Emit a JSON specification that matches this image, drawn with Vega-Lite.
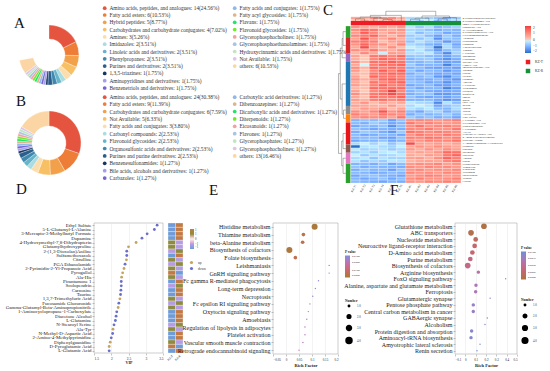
{
"$schema":"https://vega.github.io/schema/vega-lite/v6.json",
"padding":{"left":4,"top":3,"right":0,"bottom":0},
"background":"white",
"config":{"font":"Liberation Serif","view":{"stroke":null},"axis":{"labelFont":"Liberation Serif","titleFont":"Liberation Serif","labelColor":"#222","titleColor":"#222"},"legend":{"labelFont":"Liberation Serif","titleFont":"Liberation Serif","labelColor":"#333","titleColor":"#222"},"title":{"font":"Liberation Serif","fontWeight":"normal","color":"#111"}},
"datasets":{
"cnames":[{"r":0,"m":"4-Hydroxyphenylacetaldehyde"},{"r":1,"m":"2-Hydroxycinnamic Acid"},{"r":2,"m":"Indole-3-Carboxaldehyde"},{"r":3,"m":"Pantothenic Acid"},{"r":4,"m":"N-Acetylglutamine"},{"r":5,"m":"5-Hydroxyindoleacetic Acid"},{"r":6,"m":"Glycerophosphocholine"},{"r":7,"m":"Adenosine"},{"r":8,"m":"Hypoxanthine"},{"r":9,"m":"Guanosine"},{"r":10,"m":"3-Methylhistidine"},{"r":11,"m":"Xanthine"},{"r":12,"m":"L-Histidine"},{"r":13,"m":"Sphingosine"},{"r":14,"m":"Glutathione"},{"r":15,"m":"Succinic Acid"},{"r":16,"m":"Linoleic Acid"},{"r":17,"m":"Imidazolepropionic Acid"},{"r":18,"m":"Thiamine"},{"r":19,"m":"Uridine"},{"r":20,"m":"Creatine"},{"r":21,"m":"Carnosine"},{"r":22,"m":"Anserine"},{"r":23,"m":"L-Citrulline"},{"r":24,"m":"Nicotinamide"},{"r":25,"m":"Pyridoxal"},{"r":26,"m":"Riboflavin"},{"r":27,"m":"Inosine"},{"r":28,"m":"Biotin"},{"r":29,"m":"Folic Acid"},{"r":30,"m":"Betaine"},{"r":31,"m":"Choline"},{"r":32,"m":"Taurine"},{"r":33,"m":"Ala-His"},{"r":34,"m":"Ethyl Sulfate"},{"r":35,"m":"L-Glutamic Acid"},{"r":36,"m":"D-Pyroglutamic Acid"},{"r":37,"m":"Diphenylguanidine"},{"r":38,"m":"L-Glutamine"},{"r":39,"m":"Ala-Tyr"},{"r":40,"m":"N-Methyl-D-Aspartic Acid"},{"r":41,"m":"2-Amino-4-Methylpyrimidine"},{"r":42,"m":"Diacetone Alcohol"},{"r":43,"m":"1-Aminocyclopropane-1-Carboxylate"},{"r":44,"m":"Pyrogallol"},{"r":45,"m":"Ornithine"},{"r":46,"m":"Spermidine"},{"r":47,"m":"Putrescine"},{"r":48,"m":"Arginine"},{"r":49,"m":"Proline"},{"r":50,"m":"Hydroxyproline"},{"r":51,"m":"Trigonelline"},{"r":52,"m":"Kynurenine"},{"r":53,"m":"Tryptophan"},{"r":54,"m":"Phenylalanine"},{"r":55,"m":"Tyrosine"},{"r":56,"m":"Leucine"}]
},
"spacing":-12,
"resolve":{"scale":{"color":"independent","size":"independent","fill":"independent"}},
"vconcat":[
{"bounds":"flush","spacing":245,"resolve":{"scale":{"color":"independent","fill":"independent"}},"hconcat":[
 {"width":88,"height":176,
  "resolve":{"scale":{"color":"independent"}},
  "layer":[
  {"data":{"values":[
    {"o":1,"cls":"Amino acids, peptides, and analogues: 14(24.56%)","n":14},
    {"o":2,"cls":"Fatty acid esters: 6(10.53%)","n":6},
    {"o":3,"cls":"Hybrid peptides: 5(8.77%)","n":5},
    {"o":4,"cls":"Carbohydrates and carbohydrate conjugates: 4(7.02%)","n":4},
    {"o":5,"cls":"Amines: 3(5.26%)","n":3},
    {"o":6,"cls":"Imidazoles: 2(3.51%)","n":2},
    {"o":7,"cls":"Linoleic acids and derivatives: 2(3.51%)","n":2},
    {"o":8,"cls":"Phenylpropanes: 2(3.51%)","n":2},
    {"o":9,"cls":"Purines and derivatives: 2(3.51%)","n":2},
    {"o":10,"cls":"1,3,5-triazines: 1(1.75%)","n":1},
    {"o":11,"cls":"Aminopyridines and derivatives: 1(1.75%)","n":1},
    {"o":12,"cls":"Benzenetriols and derivatives: 1(1.75%)","n":1},
    {"o":13,"cls":"Fatty acids and conjugates: 1(1.75%)","n":1},
    {"o":14,"cls":"Fatty acyl glycosides: 1(1.75%)","n":1},
    {"o":15,"cls":"Flavans: 1(1.75%)","n":1},
    {"o":16,"cls":"Flavonoid glycosides: 1(1.75%)","n":1},
    {"o":17,"cls":"Glycerophosphocholines: 1(1.75%)","n":1},
    {"o":18,"cls":"Glycerophosphoethanolamines: 1(1.75%)","n":1},
    {"o":19,"cls":"Hydroxycinnamic acids and derivatives: 1(1.75%)","n":1},
    {"o":20,"cls":"Not Available: 1(1.75%)","n":1},
    {"o":21,"cls":"others: 6(10.53%)","n":6}]},
   "mark":{"type":"arc","innerRadius":16,"outerRadius":30,"stroke":"white","strokeWidth":0.3},
   "encoding":{
    "y":{"datum":"A","type":"nominal","scale":{"domain":["A","B"]},"axis":null},
    "theta":{"field":"n","type":"quantitative","stack":true},
    "order":{"field":"o","type":"quantitative"},
    "color":{"field":"cls","type":"nominal",
     "scale":{"domain":["Amino acids, peptides, and analogues: 14(24.56%)","Fatty acid esters: 6(10.53%)","Hybrid peptides: 5(8.77%)","Carbohydrates and carbohydrate conjugates: 4(7.02%)","Amines: 3(5.26%)","Imidazoles: 2(3.51%)","Linoleic acids and derivatives: 2(3.51%)","Phenylpropanes: 2(3.51%)","Purines and derivatives: 2(3.51%)","1,3,5-triazines: 1(1.75%)","Aminopyridines and derivatives: 1(1.75%)","Benzenetriols and derivatives: 1(1.75%)","Fatty acids and conjugates: 1(1.75%)","Fatty acyl glycosides: 1(1.75%)","Flavans: 1(1.75%)","Flavonoid glycosides: 1(1.75%)","Glycerophosphocholines: 1(1.75%)","Glycerophosphoethanolamines: 1(1.75%)","Hydroxycinnamic acids and derivatives: 1(1.75%)","Not Available: 1(1.75%)","others: 6(10.53%)"," ","  ","   "],
      "range":["#E4543F","#EE7E37","#F3A04B","#F8C064","#FCDDAE","#A9DDE2","#66B5CB","#3F88AE","#2A5E8C","#16375C","#A59DEB","#7462D6","#8DB9EA","#DDB58D","#1FE56A","#72E92C","#F5A0A0","#A8C4E5","#C2E5C0","#DBC6EA","#FBD6A4","rgba(0,0,0,0)","rgba(0,0,0,0)","rgba(0,0,0,0)"]},
     "legend":{"orient":"none","legendX":97,"legendY":-6,"title":null,"columns":2,"symbolType":"circle","symbolSize":14,"symbolStrokeWidth":0,"labelFontSize":5.4,"labelLimit":0,"rowPadding":0.3,"columnPadding":5,"labelOffset":2,"padding":0}}
   }},
  {"data":{"values":[
    {"o":1,"cls":"Amino acids, peptides, and analogues: 24(30.38%)","n":24},
    {"o":2,"cls":"Fatty acid esters: 9(11.39%)","n":9},
    {"o":3,"cls":"Carbohydrates and carbohydrate conjugates: 6(7.59%)","n":6},
    {"o":4,"cls":"Not Available: 5(6.33%)","n":5},
    {"o":5,"cls":"Fatty acids and conjugates: 3(3.80%)","n":3},
    {"o":6,"cls":"Carbonyl compounds: 2(2.53%)","n":2},
    {"o":7,"cls":"Flavonoid glycosides: 2(2.53%)","n":2},
    {"o":8,"cls":"Organosulfonic acids and derivatives: 2(2.53%)","n":2},
    {"o":9,"cls":"Purines and purine derivatives: 2(2.53%)","n":2},
    {"o":10,"cls":"Benzenesulfonamides: 1(1.27%)","n":1},
    {"o":11,"cls":"Bile acids, alcohols and derivatives: 1(1.27%)","n":1},
    {"o":12,"cls":"Carbazoles: 1(1.27%)","n":1},
    {"o":13,"cls":"Carboxylic acid derivatives: 1(1.27%)","n":1},
    {"o":14,"cls":"Dibenzoazepines: 1(1.27%)","n":1},
    {"o":15,"cls":"Dicarboxylic acids and derivatives: 1(1.27%)","n":1},
    {"o":16,"cls":"Diterpenoids: 1(1.27%)","n":1},
    {"o":17,"cls":"Eicosanoids: 1(1.27%)","n":1},
    {"o":18,"cls":"Flavones: 1(1.27%)","n":1},
    {"o":19,"cls":"Glycerophosphates: 1(1.27%)","n":1},
    {"o":20,"cls":"Glycerophosphocholines: 1(1.27%)","n":1},
    {"o":21,"cls":"others: 13(16.46%)","n":13}]},
   "mark":{"type":"arc","innerRadius":17,"outerRadius":32,"stroke":"white","strokeWidth":0.3},
   "encoding":{
    "y":{"datum":"B","type":"nominal","scale":{"domain":["A","B"]},"axis":null},
    "theta":{"field":"n","type":"quantitative","stack":true},
    "order":{"field":"o","type":"quantitative"},
    "color":{"field":"cls","type":"nominal",
     "scale":{"domain":["Amino acids, peptides, and analogues: 24(30.38%)","Fatty acid esters: 9(11.39%)","Carbohydrates and carbohydrate conjugates: 6(7.59%)","Not Available: 5(6.33%)","Fatty acids and conjugates: 3(3.80%)","Carbonyl compounds: 2(2.53%)","Flavonoid glycosides: 2(2.53%)","Organosulfonic acids and derivatives: 2(2.53%)","Purines and purine derivatives: 2(2.53%)","Benzenesulfonamides: 1(1.27%)","Bile acids, alcohols and derivatives: 1(1.27%)","Carbazoles: 1(1.27%)","Carboxylic acid derivatives: 1(1.27%)","Dibenzoazepines: 1(1.27%)","Dicarboxylic acids and derivatives: 1(1.27%)","Diterpenoids: 1(1.27%)","Eicosanoids: 1(1.27%)","Flavones: 1(1.27%)","Glycerophosphates: 1(1.27%)","Glycerophosphocholines: 1(1.27%)","others: 13(16.46%)"," ","  ","   "],
      "range":["#E4543F","#EE7E37","#F3A04B","#F8C064","#FCDDAE","#A9DDE2","#66B5CB","#3F88AE","#2A5E8C","#16375C","#A59DEB","#7462D6","#8DB9EA","#DDB58D","#1FE56A","#72E92C","#F5A0A0","#A8C4E5","#C2E5C0","#DBC6EA","#FBD6A4","rgba(0,0,0,0)","rgba(0,0,0,0)","rgba(0,0,0,0)"]},
     "legend":{"orient":"none","legendX":97,"legendY":83,"title":null,"columns":2,"symbolType":"circle","symbolSize":14,"symbolStrokeWidth":0,"labelFontSize":5.4,"labelLimit":0,"rowPadding":0.4,"columnPadding":5,"labelOffset":2,"padding":0}}
   }},
  {"data":{"values":[{"t":"A"}]},
   "mark":{"type":"text","align":"left","baseline":"alphabetic","fontSize":15,"dx":-35,"dy":-27,"color":"#111"},
   "encoding":{"y":{"datum":"A","type":"nominal","scale":{"domain":["A","B"]},"axis":null},"text":{"field":"t"}}},
  {"data":{"values":[{"t":"B"}]},
   "mark":{"type":"text","align":"left","baseline":"alphabetic","fontSize":15,"dx":-33,"dy":-37,"color":"#111"},
   "encoding":{"y":{"datum":"B","type":"nominal","scale":{"domain":["A","B"]},"axis":null},"text":{"field":"t"}}}
  ]},
 {"title":{"text":"C","anchor":"start","frame":"group","fontSize":15,"dx":-15,"dy":19,"offset":0,"baseline":"alphabetic"},
  "width":123,"height":172,
  "resolve":{"scale":{"x":"independent","y":"independent","color":"independent"},"axis":{"x":"independent","y":"independent"}},
  "layer":[
   {"data":{"values":[
{"r":0,"s":"KZ-T1","v":0.6},{"r":0,"s":"KZ-T2","v":0.3},{"r":0,"s":"KZ-T3","v":0.8},{"r":0,"s":"KZ-T4","v":0.5},{"r":0,"s":"KZ-T5","v":1.0},{"r":0,"s":"KZ-T6","v":0.4},{"r":0,"s":"KZ-R1","v":-0.5},{"r":0,"s":"KZ-R2","v":-0.3},{"r":0,"s":"KZ-R3","v":-0.6},{"r":0,"s":"KZ-R4","v":-0.8},{"r":0,"s":"KZ-R5","v":-1.0},{"r":0,"s":"KZ-R6","v":-0.7},
{"r":1,"s":"KZ-T1","v":0.2},{"r":1,"s":"KZ-T2","v":0.9},{"r":1,"s":"KZ-T3","v":0.5},{"r":1,"s":"KZ-T4","v":0.3},{"r":1,"s":"KZ-T5","v":0.7},{"r":1,"s":"KZ-T6","v":0.6},{"r":1,"s":"KZ-R1","v":-0.4},{"r":1,"s":"KZ-R2","v":-0.6},{"r":1,"s":"KZ-R3","v":-0.2},{"r":1,"s":"KZ-R4","v":-0.9},{"r":1,"s":"KZ-R5","v":-0.7},{"r":1,"s":"KZ-R6","v":-0.5},
{"r":2,"s":"KZ-T1","v":0.5},{"r":2,"s":"KZ-T2","v":0.4},{"r":2,"s":"KZ-T3","v":1.0},{"r":2,"s":"KZ-T4","v":0.2},{"r":2,"s":"KZ-T5","v":0.5},{"r":2,"s":"KZ-T6","v":0.9},{"r":2,"s":"KZ-R1","v":-0.6},{"r":2,"s":"KZ-R2","v":-0.2},{"r":2,"s":"KZ-R3","v":-0.5},{"r":2,"s":"KZ-R4","v":-0.6},{"r":2,"s":"KZ-R5","v":-1.2},{"r":2,"s":"KZ-R6","v":-0.8},
{"r":3,"s":"KZ-T1","v":0.8},{"r":3,"s":"KZ-T2","v":0.5},{"r":3,"s":"KZ-T3","v":0.3},{"r":3,"s":"KZ-T4","v":0.6},{"r":3,"s":"KZ-T5","v":0.4},{"r":3,"s":"KZ-T6","v":0.7},{"r":3,"s":"KZ-R1","v":-0.3},{"r":3,"s":"KZ-R2","v":-0.7},{"r":3,"s":"KZ-R3","v":-0.4},{"r":3,"s":"KZ-R4","v":-1.0},{"r":3,"s":"KZ-R5","v":-0.8},{"r":3,"s":"KZ-R6","v":-0.6},
{"r":4,"s":"KZ-T1","v":0.9},{"r":4,"s":"KZ-T2","v":1.4},{"r":4,"s":"KZ-T3","v":1.2},{"r":4,"s":"KZ-T4","v":0.6},{"r":4,"s":"KZ-T5","v":0.5},{"r":4,"s":"KZ-T6","v":0.8},{"r":4,"s":"KZ-R1","v":-0.5},{"r":4,"s":"KZ-R2","v":-0.6},{"r":4,"s":"KZ-R3","v":-0.8},{"r":4,"s":"KZ-R4","v":-1.1},{"r":4,"s":"KZ-R5","v":-0.9},{"r":4,"s":"KZ-R6","v":-1.0},
{"r":5,"s":"KZ-T1","v":0.7},{"r":5,"s":"KZ-T2","v":1.6},{"r":5,"s":"KZ-T3","v":1.0},{"r":5,"s":"KZ-T4","v":0.4},{"r":5,"s":"KZ-T5","v":0.8},{"r":5,"s":"KZ-T6","v":0.6},{"r":5,"s":"KZ-R1","v":-0.4},{"r":5,"s":"KZ-R2","v":-0.9},{"r":5,"s":"KZ-R3","v":-0.6},{"r":5,"s":"KZ-R4","v":-0.8},{"r":5,"s":"KZ-R5","v":-1.2},{"r":5,"s":"KZ-R6","v":-1.0},
{"r":6,"s":"KZ-T1","v":1.0},{"r":6,"s":"KZ-T2","v":1.2},{"r":6,"s":"KZ-T3","v":1.5},{"r":6,"s":"KZ-T4","v":0.7},{"r":6,"s":"KZ-T5","v":0.3},{"r":6,"s":"KZ-T6","v":0.9},{"r":6,"s":"KZ-R1","v":-0.7},{"r":6,"s":"KZ-R2","v":-0.5},{"r":6,"s":"KZ-R3","v":-0.9},{"r":6,"s":"KZ-R4","v":-1.3},{"r":6,"s":"KZ-R5","v":-0.7},{"r":6,"s":"KZ-R6","v":-1.1},
{"r":7,"s":"KZ-T1","v":0.6},{"r":7,"s":"KZ-T2","v":1.7},{"r":7,"s":"KZ-T3","v":0.8},{"r":7,"s":"KZ-T4","v":0.5},{"r":7,"s":"KZ-T5","v":1.0},{"r":7,"s":"KZ-T6","v":0.4},{"r":7,"s":"KZ-R1","v":-0.6},{"r":7,"s":"KZ-R2","v":-0.8},{"r":7,"s":"KZ-R3","v":-0.5},{"r":7,"s":"KZ-R4","v":-1.5},{"r":7,"s":"KZ-R5","v":-0.8},{"r":7,"s":"KZ-R6","v":-0.9},
{"r":8,"s":"KZ-T1","v":1.1},{"r":8,"s":"KZ-T2","v":1.3},{"r":8,"s":"KZ-T3","v":1.1},{"r":8,"s":"KZ-T4","v":0.2},{"r":8,"s":"KZ-T5","v":0.6},{"r":8,"s":"KZ-T6","v":0.7},{"r":8,"s":"KZ-R1","v":-0.8},{"r":8,"s":"KZ-R2","v":-0.4},{"r":8,"s":"KZ-R3","v":-0.7},{"r":8,"s":"KZ-R4","v":-0.9},{"r":8,"s":"KZ-R5","v":-1.4},{"r":8,"s":"KZ-R6","v":-1.0},
{"r":9,"s":"KZ-T1","v":0.8},{"r":9,"s":"KZ-T2","v":1.5},{"r":9,"s":"KZ-T3","v":0.9},{"r":9,"s":"KZ-T4","v":0.8},{"r":9,"s":"KZ-T5","v":0.4},{"r":9,"s":"KZ-T6","v":1.0},{"r":9,"s":"KZ-R1","v":-0.5},{"r":9,"s":"KZ-R2","v":-0.7},{"r":9,"s":"KZ-R3","v":-1.0},{"r":9,"s":"KZ-R4","v":-1.2},{"r":9,"s":"KZ-R5","v":-0.6},{"r":9,"s":"KZ-R6","v":-1.2},
{"r":10,"s":"KZ-T1","v":0.5},{"r":10,"s":"KZ-T2","v":1.8},{"r":10,"s":"KZ-T3","v":0.6},{"r":10,"s":"KZ-T4","v":0.3},{"r":10,"s":"KZ-T5","v":0.9},{"r":10,"s":"KZ-T6","v":0.2},{"r":10,"s":"KZ-R1","v":-0.2},{"r":10,"s":"KZ-R2","v":-0.4},{"r":10,"s":"KZ-R3","v":-0.6},{"r":10,"s":"KZ-R4","v":-1.9},{"r":10,"s":"KZ-R5","v":-0.5},{"r":10,"s":"KZ-R6","v":-1.0},
{"r":11,"s":"KZ-T1","v":0.9},{"r":11,"s":"KZ-T2","v":0.7},{"r":11,"s":"KZ-T3","v":1.2},{"r":11,"s":"KZ-T4","v":0.6},{"r":11,"s":"KZ-T5","v":0.4},{"r":11,"s":"KZ-T6","v":0.8},{"r":11,"s":"KZ-R1","v":-0.6},{"r":11,"s":"KZ-R2","v":-0.3},{"r":11,"s":"KZ-R3","v":-0.8},{"r":11,"s":"KZ-R4","v":-1.4},{"r":11,"s":"KZ-R5","v":-0.9},{"r":11,"s":"KZ-R6","v":-0.7},
{"r":12,"s":"KZ-T1","v":0.3},{"r":12,"s":"KZ-T2","v":1.0},{"r":12,"s":"KZ-T3","v":0.5},{"r":12,"s":"KZ-T4","v":-0.2},{"r":12,"s":"KZ-T5","v":0.7},{"r":12,"s":"KZ-T6","v":0.6},{"r":12,"s":"KZ-R1","v":-0.4},{"r":12,"s":"KZ-R2","v":-0.5},{"r":12,"s":"KZ-R3","v":-0.3},{"r":12,"s":"KZ-R4","v":-1.0},{"r":12,"s":"KZ-R5","v":-1.6},{"r":12,"s":"KZ-R6","v":-0.6},
{"r":13,"s":"KZ-T1","v":0.6},{"r":13,"s":"KZ-T2","v":0.1},{"r":13,"s":"KZ-T3","v":1.2},{"r":13,"s":"KZ-T4","v":1.3},{"r":13,"s":"KZ-T5","v":1.0},{"r":13,"s":"KZ-T6","v":1.4},{"r":13,"s":"KZ-R1","v":-0.8},{"r":13,"s":"KZ-R2","v":-0.7},{"r":13,"s":"KZ-R3","v":-0.9},{"r":13,"s":"KZ-R4","v":-1.0},{"r":13,"s":"KZ-R5","v":-1.3},{"r":13,"s":"KZ-R6","v":-0.9},
{"r":14,"s":"KZ-T1","v":0.4},{"r":14,"s":"KZ-T2","v":0.0},{"r":14,"s":"KZ-T3","v":1.0},{"r":14,"s":"KZ-T4","v":1.5},{"r":14,"s":"KZ-T5","v":1.2},{"r":14,"s":"KZ-T6","v":1.1},{"r":14,"s":"KZ-R1","v":-1.0},{"r":14,"s":"KZ-R2","v":-0.8},{"r":14,"s":"KZ-R3","v":-0.7},{"r":14,"s":"KZ-R4","v":-1.2},{"r":14,"s":"KZ-R5","v":-1.5},{"r":14,"s":"KZ-R6","v":-1.1},
{"r":15,"s":"KZ-T1","v":0.8},{"r":15,"s":"KZ-T2","v":0.2},{"r":15,"s":"KZ-T3","v":1.3},{"r":15,"s":"KZ-T4","v":1.2},{"r":15,"s":"KZ-T5","v":1.6},{"r":15,"s":"KZ-T6","v":1.3},{"r":15,"s":"KZ-R1","v":-0.9},{"r":15,"s":"KZ-R2","v":-1.0},{"r":15,"s":"KZ-R3","v":-0.8},{"r":15,"s":"KZ-R4","v":-1.1},{"r":15,"s":"KZ-R5","v":-1.3},{"r":15,"s":"KZ-R6","v":-1.2},
{"r":16,"s":"KZ-T1","v":0.5},{"r":16,"s":"KZ-T2","v":-0.1},{"r":16,"s":"KZ-T3","v":1.1},{"r":16,"s":"KZ-T4","v":1.4},{"r":16,"s":"KZ-T5","v":1.3},{"r":16,"s":"KZ-T6","v":1.5},{"r":16,"s":"KZ-R1","v":-0.7},{"r":16,"s":"KZ-R2","v":-1.1},{"r":16,"s":"KZ-R3","v":-1.0},{"r":16,"s":"KZ-R4","v":-1.0},{"r":16,"s":"KZ-R5","v":-1.7},{"r":16,"s":"KZ-R6","v":-1.0},
{"r":17,"s":"KZ-T1","v":0.9},{"r":17,"s":"KZ-T2","v":0.3},{"r":17,"s":"KZ-T3","v":1.4},{"r":17,"s":"KZ-T4","v":1.1},{"r":17,"s":"KZ-T5","v":1.4},{"r":17,"s":"KZ-T6","v":1.2},{"r":17,"s":"KZ-R1","v":-1.0},{"r":17,"s":"KZ-R2","v":-0.9},{"r":17,"s":"KZ-R3","v":-1.2},{"r":17,"s":"KZ-R4","v":-1.3},{"r":17,"s":"KZ-R5","v":-1.2},{"r":17,"s":"KZ-R6","v":-1.3},
{"r":18,"s":"KZ-T1","v":0.7},{"r":18,"s":"KZ-T2","v":0.1},{"r":18,"s":"KZ-T3","v":1.0},{"r":18,"s":"KZ-T4","v":1.6},{"r":18,"s":"KZ-T5","v":1.1},{"r":18,"s":"KZ-T6","v":1.6},{"r":18,"s":"KZ-R1","v":-0.8},{"r":18,"s":"KZ-R2","v":-1.2},{"r":18,"s":"KZ-R3","v":-0.9},{"r":18,"s":"KZ-R4","v":-1.0},{"r":18,"s":"KZ-R5","v":-1.4},{"r":18,"s":"KZ-R6","v":-1.1},
{"r":19,"s":"KZ-T1","v":0.4},{"r":19,"s":"KZ-T2","v":0.2},{"r":19,"s":"KZ-T3","v":1.2},{"r":19,"s":"KZ-T4","v":1.3},{"r":19,"s":"KZ-T5","v":1.5},{"r":19,"s":"KZ-T6","v":1.4},{"r":19,"s":"KZ-R1","v":-1.1},{"r":19,"s":"KZ-R2","v":-0.8},{"r":19,"s":"KZ-R3","v":-1.0},{"r":19,"s":"KZ-R4","v":-1.2},{"r":19,"s":"KZ-R5","v":-1.1},{"r":19,"s":"KZ-R6","v":-1.2},
{"r":20,"s":"KZ-T1","v":0.6},{"r":20,"s":"KZ-T2","v":0.0},{"r":20,"s":"KZ-T3","v":1.5},{"r":20,"s":"KZ-T4","v":1.2},{"r":20,"s":"KZ-T5","v":1.2},{"r":20,"s":"KZ-T6","v":1.1},{"r":20,"s":"KZ-R1","v":-0.9},{"r":20,"s":"KZ-R2","v":-1.0},{"r":20,"s":"KZ-R3","v":-0.8},{"r":20,"s":"KZ-R4","v":-1.4},{"r":20,"s":"KZ-R5","v":-1.6},{"r":20,"s":"KZ-R6","v":-1.0},
{"r":21,"s":"KZ-T1","v":0.8},{"r":21,"s":"KZ-T2","v":0.4},{"r":21,"s":"KZ-T3","v":0.9},{"r":21,"s":"KZ-T4","v":1.4},{"r":21,"s":"KZ-T5","v":1.6},{"r":21,"s":"KZ-T6","v":1.3},{"r":21,"s":"KZ-R1","v":-1.0},{"r":21,"s":"KZ-R2","v":-1.1},{"r":21,"s":"KZ-R3","v":-1.1},{"r":21,"s":"KZ-R4","v":-0.9},{"r":21,"s":"KZ-R5","v":-1.2},{"r":21,"s":"KZ-R6","v":-1.4},
{"r":22,"s":"KZ-T1","v":0.5},{"r":22,"s":"KZ-T2","v":0.1},{"r":22,"s":"KZ-T3","v":1.3},{"r":22,"s":"KZ-T4","v":1.0},{"r":22,"s":"KZ-T5","v":1.3},{"r":22,"s":"KZ-T6","v":1.5},{"r":22,"s":"KZ-R1","v":-0.8},{"r":22,"s":"KZ-R2","v":-0.9},{"r":22,"s":"KZ-R3","v":-1.2},{"r":22,"s":"KZ-R4","v":-1.1},{"r":22,"s":"KZ-R5","v":-1.5},{"r":22,"s":"KZ-R6","v":-1.1},
{"r":23,"s":"KZ-T1","v":0.7},{"r":23,"s":"KZ-T2","v":0.3},{"r":23,"s":"KZ-T3","v":1.1},{"r":23,"s":"KZ-T4","v":1.5},{"r":23,"s":"KZ-T5","v":1.1},{"r":23,"s":"KZ-T6","v":1.2},{"r":23,"s":"KZ-R1","v":-1.2},{"r":23,"s":"KZ-R2","v":-1.0},{"r":23,"s":"KZ-R3","v":-0.9},{"r":23,"s":"KZ-R4","v":-1.3},{"r":23,"s":"KZ-R5","v":-1.3},{"r":23,"s":"KZ-R6","v":-1.0},
{"r":24,"s":"KZ-T1","v":0.3},{"r":24,"s":"KZ-T2","v":0.2},{"r":24,"s":"KZ-T3","v":1.4},{"r":24,"s":"KZ-T4","v":1.3},{"r":24,"s":"KZ-T5","v":1.4},{"r":24,"s":"KZ-T6","v":1.4},{"r":24,"s":"KZ-R1","v":-0.9},{"r":24,"s":"KZ-R2","v":-1.2},{"r":24,"s":"KZ-R3","v":-1.0},{"r":24,"s":"KZ-R4","v":-1.0},{"r":24,"s":"KZ-R5","v":-1.7},{"r":24,"s":"KZ-R6","v":-1.3},
{"r":25,"s":"KZ-T1","v":0.6},{"r":25,"s":"KZ-T2","v":0.0},{"r":25,"s":"KZ-T3","v":1.0},{"r":25,"s":"KZ-T4","v":1.2},{"r":25,"s":"KZ-T5","v":2.0},{"r":25,"s":"KZ-T6","v":1.0},{"r":25,"s":"KZ-R1","v":-1.0},{"r":25,"s":"KZ-R2","v":-0.8},{"r":25,"s":"KZ-R3","v":-1.1},{"r":25,"s":"KZ-R4","v":-1.2},{"r":25,"s":"KZ-R5","v":-1.2},{"r":25,"s":"KZ-R6","v":-1.1},
{"r":26,"s":"KZ-T1","v":0.9},{"r":26,"s":"KZ-T2","v":0.3},{"r":26,"s":"KZ-T3","v":1.2},{"r":26,"s":"KZ-T4","v":1.4},{"r":26,"s":"KZ-T5","v":1.8},{"r":26,"s":"KZ-T6","v":1.3},{"r":26,"s":"KZ-R1","v":-1.1},{"r":26,"s":"KZ-R2","v":-0.9},{"r":26,"s":"KZ-R3","v":-0.8},{"r":26,"s":"KZ-R4","v":-1.4},{"r":26,"s":"KZ-R5","v":-1.4},{"r":26,"s":"KZ-R6","v":-1.2},
{"r":27,"s":"KZ-T1","v":0.5},{"r":27,"s":"KZ-T2","v":0.1},{"r":27,"s":"KZ-T3","v":1.3},{"r":27,"s":"KZ-T4","v":1.1},{"r":27,"s":"KZ-T5","v":1.2},{"r":27,"s":"KZ-T6","v":1.5},{"r":27,"s":"KZ-R1","v":-0.8},{"r":27,"s":"KZ-R2","v":-1.1},{"r":27,"s":"KZ-R3","v":-1.2},{"r":27,"s":"KZ-R4","v":-1.1},{"r":27,"s":"KZ-R5","v":-1.3},{"r":27,"s":"KZ-R6","v":-1.0},
{"r":28,"s":"KZ-T1","v":0.7},{"r":28,"s":"KZ-T2","v":0.4},{"r":28,"s":"KZ-T3","v":1.1},{"r":28,"s":"KZ-T4","v":1.3},{"r":28,"s":"KZ-T5","v":1.0},{"r":28,"s":"KZ-T6","v":1.2},{"r":28,"s":"KZ-R1","v":-1.0},{"r":28,"s":"KZ-R2","v":-1.0},{"r":28,"s":"KZ-R3","v":-0.9},{"r":28,"s":"KZ-R4","v":-1.2},{"r":28,"s":"KZ-R5","v":-1.5},{"r":28,"s":"KZ-R6","v":-1.3},
{"r":29,"s":"KZ-T1","v":0.4},{"r":29,"s":"KZ-T2","v":0.8},{"r":29,"s":"KZ-T3","v":0.2},{"r":29,"s":"KZ-T4","v":0.6},{"r":29,"s":"KZ-T5","v":0.3},{"r":29,"s":"KZ-T6","v":0.5},{"r":29,"s":"KZ-R1","v":-0.3},{"r":29,"s":"KZ-R2","v":-0.5},{"r":29,"s":"KZ-R3","v":-0.6},{"r":29,"s":"KZ-R4","v":-1.6},{"r":29,"s":"KZ-R5","v":-0.4},{"r":29,"s":"KZ-R6","v":-0.9},
{"r":30,"s":"KZ-T1","v":0.6},{"r":30,"s":"KZ-T2","v":0.5},{"r":30,"s":"KZ-T3","v":0.4},{"r":30,"s":"KZ-T4","v":0.3},{"r":30,"s":"KZ-T5","v":0.7},{"r":30,"s":"KZ-T6","v":0.2},{"r":30,"s":"KZ-R1","v":-0.5},{"r":30,"s":"KZ-R2","v":-0.2},{"r":30,"s":"KZ-R3","v":-0.4},{"r":30,"s":"KZ-R4","v":-1.2},{"r":30,"s":"KZ-R5","v":-0.8},{"r":30,"s":"KZ-R6","v":-0.6},
{"r":31,"s":"KZ-T1","v":0.3},{"r":31,"s":"KZ-T2","v":0.7},{"r":31,"s":"KZ-T3","v":0.5},{"r":31,"s":"KZ-T4","v":0.8},{"r":31,"s":"KZ-T5","v":0.2},{"r":31,"s":"KZ-T6","v":0.6},{"r":31,"s":"KZ-R1","v":-0.4},{"r":31,"s":"KZ-R2","v":-0.6},{"r":31,"s":"KZ-R3","v":-0.3},{"r":31,"s":"KZ-R4","v":-0.9},{"r":31,"s":"KZ-R5","v":-1.0},{"r":31,"s":"KZ-R6","v":-0.5},
{"r":32,"s":"KZ-T1","v":0.9},{"r":32,"s":"KZ-T2","v":0.6},{"r":32,"s":"KZ-T3","v":1.0},{"r":32,"s":"KZ-T4","v":1.7},{"r":32,"s":"KZ-T5","v":0.8},{"r":32,"s":"KZ-T6","v":1.1},{"r":32,"s":"KZ-R1","v":-0.9},{"r":32,"s":"KZ-R2","v":-1.2},{"r":32,"s":"KZ-R3","v":-0.7},{"r":32,"s":"KZ-R4","v":-0.6},{"r":32,"s":"KZ-R5","v":-1.1},{"r":32,"s":"KZ-R6","v":-0.8},
{"r":33,"s":"KZ-T1","v":1.1},{"r":33,"s":"KZ-T2","v":0.8},{"r":33,"s":"KZ-T3","v":0.7},{"r":33,"s":"KZ-T4","v":1.2},{"r":33,"s":"KZ-T5","v":1.0},{"r":33,"s":"KZ-T6","v":0.9},{"r":33,"s":"KZ-R1","v":-1.1},{"r":33,"s":"KZ-R2","v":-0.8},{"r":33,"s":"KZ-R3","v":-1.0},{"r":33,"s":"KZ-R4","v":-0.9},{"r":33,"s":"KZ-R5","v":-0.7},{"r":33,"s":"KZ-R6","v":-1.0},
{"r":34,"s":"KZ-T1","v":0.8},{"r":34,"s":"KZ-T2","v":1.0},{"r":34,"s":"KZ-T3","v":0.9},{"r":34,"s":"KZ-T4","v":1.0},{"r":34,"s":"KZ-T5","v":0.6},{"r":34,"s":"KZ-T6","v":1.3},{"r":34,"s":"KZ-R1","v":-0.7},{"r":34,"s":"KZ-R2","v":-1.0},{"r":34,"s":"KZ-R3","v":-0.8},{"r":34,"s":"KZ-R4","v":-1.1},{"r":34,"s":"KZ-R5","v":-0.9},{"r":34,"s":"KZ-R6","v":-1.2},
{"r":35,"s":"KZ-T1","v":-1.0},{"r":35,"s":"KZ-T2","v":-0.8},{"r":35,"s":"KZ-T3","v":-0.9},{"r":35,"s":"KZ-T4","v":-0.7},{"r":35,"s":"KZ-T5","v":-1.3},{"r":35,"s":"KZ-T6","v":-0.8},{"r":35,"s":"KZ-R1","v":0.8},{"r":35,"s":"KZ-R2","v":1.0},{"r":35,"s":"KZ-R3","v":0.9},{"r":35,"s":"KZ-R4","v":0.7},{"r":35,"s":"KZ-R5","v":0.9},{"r":35,"s":"KZ-R6","v":1.1},
{"r":36,"s":"KZ-T1","v":-0.9},{"r":36,"s":"KZ-T2","v":-1.1},{"r":36,"s":"KZ-T3","v":-0.7},{"r":36,"s":"KZ-T4","v":-0.9},{"r":36,"s":"KZ-T5","v":-1.2},{"r":36,"s":"KZ-T6","v":-1.0},{"r":36,"s":"KZ-R1","v":1.2},{"r":36,"s":"KZ-R2","v":0.8},{"r":36,"s":"KZ-R3","v":1.1},{"r":36,"s":"KZ-R4","v":0.9},{"r":36,"s":"KZ-R5","v":0.7},{"r":36,"s":"KZ-R6","v":0.8},
{"r":37,"s":"KZ-T1","v":-1.2},{"r":37,"s":"KZ-T2","v":-0.9},{"r":37,"s":"KZ-T3","v":-1.0},{"r":37,"s":"KZ-T4","v":-0.8},{"r":37,"s":"KZ-T5","v":-1.5},{"r":37,"s":"KZ-T6","v":-0.9},{"r":37,"s":"KZ-R1","v":0.9},{"r":37,"s":"KZ-R2","v":1.3},{"r":37,"s":"KZ-R3","v":0.8},{"r":37,"s":"KZ-R4","v":1.0},{"r":37,"s":"KZ-R5","v":1.1},{"r":37,"s":"KZ-R6","v":0.9},
{"r":38,"s":"KZ-T1","v":-0.8},{"r":38,"s":"KZ-T2","v":-1.0},{"r":38,"s":"KZ-T3","v":-1.2},{"r":38,"s":"KZ-T4","v":-1.0},{"r":38,"s":"KZ-T5","v":-1.1},{"r":38,"s":"KZ-T6","v":-1.1},{"r":38,"s":"KZ-R1","v":1.0},{"r":38,"s":"KZ-R2","v":0.9},{"r":38,"s":"KZ-R3","v":1.2},{"r":38,"s":"KZ-R4","v":0.8},{"r":38,"s":"KZ-R5","v":0.8},{"r":38,"s":"KZ-R6","v":1.2},
{"r":39,"s":"KZ-T1","v":-1.1},{"r":39,"s":"KZ-T2","v":-0.7},{"r":39,"s":"KZ-T3","v":-0.8},{"r":39,"s":"KZ-T4","v":-1.1},{"r":39,"s":"KZ-T5","v":-1.4},{"r":39,"s":"KZ-T6","v":-0.7},{"r":39,"s":"KZ-R1","v":1.3},{"r":39,"s":"KZ-R2","v":1.1},{"r":39,"s":"KZ-R3","v":0.9},{"r":39,"s":"KZ-R4","v":1.1},{"r":39,"s":"KZ-R5","v":1.0},{"r":39,"s":"KZ-R6","v":0.9},
{"r":40,"s":"KZ-T1","v":-0.9},{"r":40,"s":"KZ-T2","v":-1.2},{"r":40,"s":"KZ-T3","v":-1.1},{"r":40,"s":"KZ-T4","v":-0.9},{"r":40,"s":"KZ-T5","v":-1.0},{"r":40,"s":"KZ-T6","v":-1.2},{"r":40,"s":"KZ-R1","v":0.8},{"r":40,"s":"KZ-R2","v":1.2},{"r":40,"s":"KZ-R3","v":1.0},{"r":40,"s":"KZ-R4","v":0.9},{"r":40,"s":"KZ-R5","v":1.2},{"r":40,"s":"KZ-R6","v":1.0},
{"r":41,"s":"KZ-T1","v":-1.0},{"r":41,"s":"KZ-T2","v":-0.9},{"r":41,"s":"KZ-T3","v":-0.9},{"r":41,"s":"KZ-T4","v":-1.2},{"r":41,"s":"KZ-T5","v":-1.3},{"r":41,"s":"KZ-T6","v":-0.8},{"r":41,"s":"KZ-R1","v":1.1},{"r":41,"s":"KZ-R2","v":1.0},{"r":41,"s":"KZ-R3","v":1.3},{"r":41,"s":"KZ-R4","v":1.2},{"r":41,"s":"KZ-R5","v":0.9},{"r":41,"s":"KZ-R6","v":1.1},
{"r":42,"s":"KZ-T1","v":-1.2},{"r":42,"s":"KZ-T2","v":-1.0},{"r":42,"s":"KZ-T3","v":-1.0},{"r":42,"s":"KZ-T4","v":-0.8},{"r":42,"s":"KZ-T5","v":-1.2},{"r":42,"s":"KZ-T6","v":-1.0},{"r":42,"s":"KZ-R1","v":0.9},{"r":42,"s":"KZ-R2","v":0.8},{"r":42,"s":"KZ-R3","v":1.1},{"r":42,"s":"KZ-R4","v":1.0},{"r":42,"s":"KZ-R5","v":1.0},{"r":42,"s":"KZ-R6","v":1.3},
{"r":43,"s":"KZ-T1","v":-0.5},{"r":43,"s":"KZ-T2","v":-0.2},{"r":43,"s":"KZ-T3","v":-0.6},{"r":43,"s":"KZ-T4","v":-0.3},{"r":43,"s":"KZ-T5","v":-0.8},{"r":43,"s":"KZ-T6","v":-0.4},{"r":43,"s":"KZ-R1","v":1.8},{"r":43,"s":"KZ-R2","v":0.6},{"r":43,"s":"KZ-R3","v":0.5},{"r":43,"s":"KZ-R4","v":0.7},{"r":43,"s":"KZ-R5","v":0.4},{"r":43,"s":"KZ-R6","v":0.6},
{"r":44,"s":"KZ-T1","v":-2.0},{"r":44,"s":"KZ-T2","v":-0.4},{"r":44,"s":"KZ-T3","v":-0.3},{"r":44,"s":"KZ-T4","v":-0.5},{"r":44,"s":"KZ-T5","v":-0.6},{"r":44,"s":"KZ-T6","v":-0.2},{"r":44,"s":"KZ-R1","v":0.5},{"r":44,"s":"KZ-R2","v":0.8},{"r":44,"s":"KZ-R3","v":0.6},{"r":44,"s":"KZ-R4","v":0.9},{"r":44,"s":"KZ-R5","v":0.7},{"r":44,"s":"KZ-R6","v":0.5},
{"r":45,"s":"KZ-T1","v":-0.3},{"r":45,"s":"KZ-T2","v":-0.6},{"r":45,"s":"KZ-T3","v":-0.5},{"r":45,"s":"KZ-T4","v":-0.4},{"r":45,"s":"KZ-T5","v":-0.7},{"r":45,"s":"KZ-T6","v":-0.5},{"r":45,"s":"KZ-R1","v":0.7},{"r":45,"s":"KZ-R2","v":0.4},{"r":45,"s":"KZ-R3","v":0.8},{"r":45,"s":"KZ-R4","v":0.5},{"r":45,"s":"KZ-R5","v":0.9},{"r":45,"s":"KZ-R6","v":0.6},
{"r":46,"s":"KZ-T1","v":-0.6},{"r":46,"s":"KZ-T2","v":-0.4},{"r":46,"s":"KZ-T3","v":-0.7},{"r":46,"s":"KZ-T4","v":-0.3},{"r":46,"s":"KZ-T5","v":-0.2},{"r":46,"s":"KZ-T6","v":-0.5},{"r":46,"s":"KZ-R1","v":0.4},{"r":46,"s":"KZ-R2","v":0.6},{"r":46,"s":"KZ-R3","v":0.5},{"r":46,"s":"KZ-R4","v":0.8},{"r":46,"s":"KZ-R5","v":1.4},{"r":46,"s":"KZ-R6","v":1.3},
{"r":47,"s":"KZ-T1","v":-0.2},{"r":47,"s":"KZ-T2","v":-0.7},{"r":47,"s":"KZ-T3","v":-0.4},{"r":47,"s":"KZ-T4","v":-0.6},{"r":47,"s":"KZ-T5","v":-0.5},{"r":47,"s":"KZ-T6","v":-0.3},{"r":47,"s":"KZ-R1","v":0.5},{"r":47,"s":"KZ-R2","v":0.3},{"r":47,"s":"KZ-R3","v":0.7},{"r":47,"s":"KZ-R4","v":0.6},{"r":47,"s":"KZ-R5","v":1.2},{"r":47,"s":"KZ-R6","v":1.5},
{"r":48,"s":"KZ-T1","v":-0.5},{"r":48,"s":"KZ-T2","v":-0.3},{"r":48,"s":"KZ-T3","v":-0.8},{"r":48,"s":"KZ-T4","v":-0.4},{"r":48,"s":"KZ-T5","v":-0.6},{"r":48,"s":"KZ-T6","v":-0.6},{"r":48,"s":"KZ-R1","v":0.6},{"r":48,"s":"KZ-R2","v":0.7},{"r":48,"s":"KZ-R3","v":0.4},{"r":48,"s":"KZ-R4","v":0.9},{"r":48,"s":"KZ-R5","v":1.5},{"r":48,"s":"KZ-R6","v":1.1},
{"r":49,"s":"KZ-T1","v":-0.4},{"r":49,"s":"KZ-T2","v":-0.8},{"r":49,"s":"KZ-T3","v":-0.5},{"r":49,"s":"KZ-T4","v":-0.7},{"r":49,"s":"KZ-T5","v":-0.3},{"r":49,"s":"KZ-T6","v":-0.4},{"r":49,"s":"KZ-R1","v":0.3},{"r":49,"s":"KZ-R2","v":0.5},{"r":49,"s":"KZ-R3","v":0.6},{"r":49,"s":"KZ-R4","v":0.5},{"r":49,"s":"KZ-R5","v":1.0},{"r":49,"s":"KZ-R6","v":1.2},
{"r":50,"s":"KZ-T1","v":-1.0},{"r":50,"s":"KZ-T2","v":-0.9},{"r":50,"s":"KZ-T3","v":-1.1},{"r":50,"s":"KZ-T4","v":-0.8},{"r":50,"s":"KZ-T5","v":-1.2},{"r":50,"s":"KZ-T6","v":-0.9},{"r":50,"s":"KZ-R1","v":0.7},{"r":50,"s":"KZ-R2","v":0.9},{"r":50,"s":"KZ-R3","v":0.8},{"r":50,"s":"KZ-R4","v":1.0},{"r":50,"s":"KZ-R5","v":0.6},{"r":50,"s":"KZ-R6","v":0.8},
{"r":51,"s":"KZ-T1","v":-0.8},{"r":51,"s":"KZ-T2","v":-1.1},{"r":51,"s":"KZ-T3","v":-0.9},{"r":51,"s":"KZ-T4","v":-1.0},{"r":51,"s":"KZ-T5","v":-1.0},{"r":51,"s":"KZ-T6","v":-1.1},{"r":51,"s":"KZ-R1","v":0.9},{"r":51,"s":"KZ-R2","v":0.7},{"r":51,"s":"KZ-R3","v":1.0},{"r":51,"s":"KZ-R4","v":0.8},{"r":51,"s":"KZ-R5","v":0.9},{"r":51,"s":"KZ-R6","v":0.7},
{"r":52,"s":"KZ-T1","v":-1.1},{"r":52,"s":"KZ-T2","v":-0.8},{"r":52,"s":"KZ-T3","v":-1.0},{"r":52,"s":"KZ-T4","v":-0.9},{"r":52,"s":"KZ-T5","v":-1.3},{"r":52,"s":"KZ-T6","v":-0.8},{"r":52,"s":"KZ-R1","v":0.8},{"r":52,"s":"KZ-R2","v":1.0},{"r":52,"s":"KZ-R3","v":0.7},{"r":52,"s":"KZ-R4","v":0.9},{"r":52,"s":"KZ-R5","v":0.8},{"r":52,"s":"KZ-R6","v":1.0},
{"r":53,"s":"KZ-T1","v":-0.9},{"r":53,"s":"KZ-T2","v":-1.0},{"r":53,"s":"KZ-T3","v":-1.2},{"r":53,"s":"KZ-T4","v":-1.1},{"r":53,"s":"KZ-T5","v":-0.9},{"r":53,"s":"KZ-T6","v":-1.0},{"r":53,"s":"KZ-R1","v":1.0},{"r":53,"s":"KZ-R2","v":0.8},{"r":53,"s":"KZ-R3","v":0.9},{"r":53,"s":"KZ-R4","v":0.7},{"r":53,"s":"KZ-R5","v":1.0},{"r":53,"s":"KZ-R6","v":0.9},
{"r":54,"s":"KZ-T1","v":-1.2},{"r":54,"s":"KZ-T2","v":-0.9},{"r":54,"s":"KZ-T3","v":-0.8},{"r":54,"s":"KZ-T4","v":-1.0},{"r":54,"s":"KZ-T5","v":-1.1},{"r":54,"s":"KZ-T6","v":-1.2},{"r":54,"s":"KZ-R1","v":0.7},{"r":54,"s":"KZ-R2","v":0.9},{"r":54,"s":"KZ-R3","v":1.1},{"r":54,"s":"KZ-R4","v":1.0},{"r":54,"s":"KZ-R5","v":0.7},{"r":54,"s":"KZ-R6","v":0.8},
{"r":55,"s":"KZ-T1","v":-1.0},{"r":55,"s":"KZ-T2","v":-1.2},{"r":55,"s":"KZ-T3","v":-1.0},{"r":55,"s":"KZ-T4","v":-0.8},{"r":55,"s":"KZ-T5","v":-1.2},{"r":55,"s":"KZ-T6","v":-0.9},{"r":55,"s":"KZ-R1","v":0.9},{"r":55,"s":"KZ-R2","v":1.1},{"r":55,"s":"KZ-R3","v":0.8},{"r":55,"s":"KZ-R4","v":0.8},{"r":55,"s":"KZ-R5","v":0.9},{"r":55,"s":"KZ-R6","v":1.1},
{"r":56,"s":"KZ-T1","v":-0.9},{"r":56,"s":"KZ-T2","v":-1.0},{"r":56,"s":"KZ-T3","v":-1.1},{"r":56,"s":"KZ-T4","v":-1.2},{"r":56,"s":"KZ-T5","v":-1.0},{"r":56,"s":"KZ-T6","v":-1.1},{"r":56,"s":"KZ-R1","v":0.8},{"r":56,"s":"KZ-R2","v":0.7},{"r":56,"s":"KZ-R3","v":1.0},{"r":56,"s":"KZ-R4","v":0.9},{"r":56,"s":"KZ-R5","v":1.1},{"r":56,"s":"KZ-R6","v":0.9}
   ]},
    "transform":[{"lookup":"r","from":{"data":{"name":"cnames"},"key":"r","fields":["m"]}}],
    "mark":{"type":"rect","stroke":"#ffffff","strokeWidth":0.25},
    "encoding":{
     "x":{"field":"s","type":"ordinal","sort":["KZ-T1","KZ-T2","KZ-T3","KZ-T4","KZ-T5","KZ-T6","KZ-R1","KZ-R2","KZ-R3","KZ-R4","KZ-R5","KZ-R6"],"scale":{"paddingInner":0,"paddingOuter":0.7,"align":1},"axis":{"orient":"bottom","title":null,"labelAngle":-60,"labelFontSize":3,"ticks":false,"domain":false,"labelPadding":1}},
     "y":{"field":"m","type":"ordinal","sort":{"field":"r","op":"min"},"scale":{"paddingInner":0,"paddingOuter":2.75,"align":1},"axis":{"orient":"right","title":null,"labelFontSize":2.7,"ticks":false,"domain":false,"labelPadding":1,"labelOverlap":false}},
     "color":{"field":"v","type":"quantitative","scale":{"domain":[-2,0,2],"range":["#2A6FC6","#FFFFFF","#E3403F"]},"legend":{"orient":"none","legendX":187,"legendY":15,"title":null,"direction":"vertical","gradientLength":27,"gradientThickness":6,"labelFontSize":3.5,"values":[-2,-1,0,1,2],"padding":0,"labelOffset":2}}
    }},
   {"layer":[
    {"data":{"values":[{"g":"KZ-T","a":0,"b":6},{"g":"KZ-R","a":6,"b":12}]},
     "mark":{"type":"rect"},
     "encoding":{
      "x":{"field":"a","type":"quantitative","scale":{"domain":[-1.4,12],"nice":false,"zero":false},"axis":null},
      "x2":{"field":"b"},
      "y":{"datum":-1.85,"type":"quantitative","scale":{"domain":[-5.5,57],"nice":false,"zero":false,"reverse":true},"axis":null},
      "y2":{"datum":-0.35},
      "color":{"field":"g","type":"nominal","scale":{"domain":["KZ-T","KZ-R"],"range":["#EE1C25","#16903A"]},"legend":{"orient":"none","legendX":187,"legendY":48,"title":null,"symbolType":"square","symbolSize":20,"labelFontSize":3.5,"rowPadding":3,"padding":0}}
     }},
    {"data":{"values":[{"k":"b1","a":0,"b":4},{"k":"b2","a":4,"b":10},{"k":"b3","a":10,"b":13},{"k":"b4","a":13,"b":29},{"k":"b5","a":29,"b":32},{"k":"b6","a":32,"b":35},{"k":"b7","a":35,"b":43},{"k":"b8","a":43,"b":46},{"k":"b9","a":46,"b":50},{"k":"b10","a":50,"b":57}]},
     "mark":{"type":"rect"},
     "encoding":{
      "x":{"datum":-0.55,"type":"quantitative","scale":{"domain":[-1.4,12],"nice":false,"zero":false},"axis":null},
      "x2":{"datum":-0.05},
      "y":{"field":"a","type":"quantitative","scale":{"domain":[-5.5,57],"nice":false,"zero":false,"reverse":true},"axis":null},
      "y2":{"field":"b"},
      "fill":{"field":"k","type":"nominal","scale":{"domain":["b1","b2","b3","b4","b5","b6","b7","b8","b9","b10"],"range":["#2CA02C","#D62728","#9467BD","#1F77B4","#8C8C8C","#FF7F0E","#E8141C","#8C564B","#E377C2","#2CA02C"]},"legend":null}
     }},
    {"data":{"values":[
{"x":0.5,"x2":0.5,"y":-1.85,"y2":-2.6},{"x":1.5,"x2":1.5,"y":-1.85,"y2":-2.6},{"x":0.5,"x2":1.5,"y":-2.6,"y2":-2.6},
{"x":3.5,"x2":3.5,"y":-1.85,"y2":-2.4},{"x":4.5,"x2":4.5,"y":-1.85,"y2":-2.4},{"x":3.5,"x2":4.5,"y":-2.4,"y2":-2.4},
{"x":2.5,"x2":2.5,"y":-1.85,"y2":-2.9},{"x":4,"x2":4,"y":-2.4,"y2":-2.9},{"x":2.5,"x2":4,"y":-2.9,"y2":-2.9},
{"x":1,"x2":1,"y":-2.6,"y2":-3.3},{"x":3.25,"x2":3.25,"y":-2.9,"y2":-3.3},{"x":1,"x2":3.25,"y":-3.3,"y2":-3.3},
{"x":2.125,"x2":2.125,"y":-3.3,"y2":-3.9},{"x":5.5,"x2":5.5,"y":-1.85,"y2":-3.9},{"x":2.125,"x2":5.5,"y":-3.9,"y2":-3.9},
{"x":6.5,"x2":6.5,"y":-1.85,"y2":-2.5},{"x":7.5,"x2":7.5,"y":-1.85,"y2":-2.5},{"x":6.5,"x2":7.5,"y":-2.5,"y2":-2.5},
{"x":7,"x2":7,"y":-2.5,"y2":-2.9},{"x":8.5,"x2":8.5,"y":-1.85,"y2":-2.9},{"x":7,"x2":8.5,"y":-2.9,"y2":-2.9},
{"x":9.5,"x2":9.5,"y":-1.85,"y2":-2.6},{"x":10.5,"x2":10.5,"y":-1.85,"y2":-2.6},{"x":9.5,"x2":10.5,"y":-2.6,"y2":-2.6},
{"x":10,"x2":10,"y":-2.6,"y2":-3.1},{"x":11.5,"x2":11.5,"y":-1.85,"y2":-3.1},{"x":10,"x2":11.5,"y":-3.1,"y2":-3.1},
{"x":7.75,"x2":7.75,"y":-2.9,"y2":-3.7},{"x":10.75,"x2":10.75,"y":-3.1,"y2":-3.7},{"x":7.75,"x2":10.75,"y":-3.7,"y2":-3.7},
{"x":3.8125,"x2":3.8125,"y":-3.9,"y2":-5.4},{"x":9.25,"x2":9.25,"y":-3.7,"y2":-5.4},{"x":3.8125,"x2":9.25,"y":-5.4,"y2":-5.4},
{"x":-0.55,"x2":-0.85,"y":2,"y2":2},{"x":-0.55,"x2":-0.85,"y":7,"y2":7},{"x":-0.85,"x2":-0.85,"y":2,"y2":7},
{"x":-0.85,"x2":-0.95,"y":4.5,"y2":4.5},{"x":-0.55,"x2":-0.95,"y":11.5,"y2":11.5},{"x":-0.95,"x2":-0.95,"y":4.5,"y2":11.5},
{"x":-0.55,"x2":-0.8,"y":30.5,"y2":30.5},{"x":-0.55,"x2":-0.8,"y":33.5,"y2":33.5},{"x":-0.8,"x2":-0.8,"y":30.5,"y2":33.5},
{"x":-0.55,"x2":-0.95,"y":21,"y2":21},{"x":-0.8,"x2":-0.95,"y":32,"y2":32},{"x":-0.95,"x2":-0.95,"y":21,"y2":32},
{"x":-0.95,"x2":-1.15,"y":8,"y2":8},{"x":-0.95,"x2":-1.15,"y":26.5,"y2":26.5},{"x":-1.15,"x2":-1.15,"y":8,"y2":26.5},
{"x":-0.55,"x2":-0.85,"y":39,"y2":39},{"x":-0.55,"x2":-0.85,"y":44.5,"y2":44.5},{"x":-0.85,"x2":-0.85,"y":39,"y2":44.5},
{"x":-0.55,"x2":-0.85,"y":48,"y2":48},{"x":-0.55,"x2":-0.85,"y":53.5,"y2":53.5},{"x":-0.85,"x2":-0.85,"y":48,"y2":53.5},
{"x":-0.85,"x2":-1.0,"y":41.75,"y2":41.75},{"x":-0.85,"x2":-1.0,"y":50.75,"y2":50.75},{"x":-1.0,"x2":-1.0,"y":41.75,"y2":50.75},
{"x":-1.15,"x2":-1.35,"y":17.25,"y2":17.25},{"x":-1.0,"x2":-1.35,"y":46.25,"y2":46.25},{"x":-1.35,"x2":-1.35,"y":17.25,"y2":46.25}
     ]},
     "mark":{"type":"rule","color":"#444","strokeWidth":0.4},
     "encoding":{
      "x":{"field":"x","type":"quantitative","scale":{"domain":[-1.4,12],"nice":false,"zero":false},"axis":null},
      "x2":{"field":"x2"},
      "y":{"field":"y","type":"quantitative","scale":{"domain":[-5.5,57],"nice":false,"zero":false,"reverse":true},"axis":null},
      "y2":{"field":"y2"}
     }}
   ]}
  ]}
]},
{"bounds":"flush","spacing":5,"resolve":{"scale":{"color":"independent","size":"independent"}},"hconcat":[
  {"width":84,"height":130,"data":{"values":[]},"mark":{"type":"point"},"encoding":{}},
  {"title":{"text":"D","anchor":"start","frame":"group","fontSize":15,"dx":-78,"offset":10,"baseline":"bottom"},
   "width":69,"height":130,
   "view":{"stroke":"#9a9a9a","strokeWidth":0.5},
   "data":{"values":[
    {"m":"Ethyl Sulfate","vip":3.33,"reg":"down"},
    {"m":"5-L-Glutamyl-L-Alanine","vip":3.25,"reg":"down"},
    {"m":"3-Mercapto-3-Methylbutyl Formate","vip":3.04,"reg":"down"},
    {"m":"Dopamine","vip":2.89,"reg":"down"},
    {"m":"4-Hydroxymethyl-7,8-Dihydropterin","vip":2.72,"reg":"up"},
    {"m":"Glutamylhydroxyproline","vip":2.5,"reg":"up"},
    {"m":"2-(1,3-Dioxolan)Aniline","vip":2.45,"reg":"down"},
    {"m":"Sulfamethoxazole","vip":2.45,"reg":"down"},
    {"m":"Citrulline","vip":2.44,"reg":"up"},
    {"m":"PGA Ethanolamide","vip":2.4,"reg":"down"},
    {"m":"2-Pyrimidin-2-Yl-Propanoic Acid","vip":2.37,"reg":"up"},
    {"m":"Pyrogallol","vip":2.33,"reg":"up"},
    {"m":"Ala-His","vip":2.3,"reg":"up"},
    {"m":"Pirantamone 1","vip":2.29,"reg":"down"},
    {"m":"Scolopendrin","vip":2.29,"reg":"down"},
    {"m":"Carnosine","vip":2.28,"reg":"down"},
    {"m":"Taurine","vip":2.27,"reg":"down"},
    {"m":"1,3,7-Trimethyluric Acid","vip":2.25,"reg":"up"},
    {"m":"Fucosamide Glucuronide","vip":2.22,"reg":"down"},
    {"m":"Gamma-Glutamyl-Beta-Aminopropionitrile","vip":2.2,"reg":"up"},
    {"m":"1-Aminocyclopropane-1-Carboxylate","vip":2.16,"reg":"down"},
    {"m":"Diacetone Alcohol","vip":2.14,"reg":"down"},
    {"m":"L-Glutamine","vip":2.12,"reg":"down"},
    {"m":"N-Stearoyl Serine","vip":2.08,"reg":"down"},
    {"m":"Ala-Tyr","vip":2.05,"reg":"up"},
    {"m":"N-Methyl-D-Aspartic Acid","vip":2.04,"reg":"down"},
    {"m":"2-Amino-4-Methylpyrimidine","vip":2.0,"reg":"down"},
    {"m":"Diphenylguanidine","vip":1.97,"reg":"up"},
    {"m":"D-Pyroglutamic Acid","vip":1.94,"reg":"up"},
    {"m":"L-Glutamic Acid","vip":1.94,"reg":"down"}]},
   "mark":{"type":"point","filled":true,"size":8,"opacity":1},
   "encoding":{
    "x":{"field":"vip","type":"quantitative","scale":{"domain":[1.5,3.5],"nice":false,"zero":false},"axis":{"title":"VIP","titleFontSize":4,"titlePadding":1,"values":[1.5,2,2.5,3,3.5],"format":"~g","labelFontSize":3.5,"tickSize":2,"tickWidth":0.5,"domain":false,"gridColor":"#e6e6e6","gridWidth":0.5,"labelPadding":1}},
    "y":{"field":"m","type":"nominal","sort":null,"axis":{"title":null,"labelFontSize":4.9,"tickSize":2,"tickWidth":0.5,"domain":false,"gridColor":"#e6e6e6","gridWidth":0.5,"labelPadding":1,"labelLimit":0}},
    "color":{"field":"reg","type":"nominal","scale":{"domain":["up","down"],"range":["#C4A55F","#6A6FC9"]},"legend":{"orient":"none","legendX":95,"legendY":37,"title":null,"symbolType":"circle","symbolSize":10,"labelFontSize":3.5,"rowPadding":1,"padding":0}}
   }},
  {"width":15,"height":130,
   "data":{"values":[
    {"m":"Ethyl Sulfate","s":"KZ-T","v":-1},{"m":"Ethyl Sulfate","s":"KZ-R","v":1},
    {"m":"5-L-Glutamyl-L-Alanine","s":"KZ-T","v":-1},{"m":"5-L-Glutamyl-L-Alanine","s":"KZ-R","v":1},
    {"m":"3-Mercapto-3-Methylbutyl Formate","s":"KZ-T","v":-1},{"m":"3-Mercapto-3-Methylbutyl Formate","s":"KZ-R","v":1},
    {"m":"Dopamine","s":"KZ-T","v":-1},{"m":"Dopamine","s":"KZ-R","v":1},
    {"m":"4-Hydroxymethyl-7,8-Dihydropterin","s":"KZ-T","v":0.5},{"m":"4-Hydroxymethyl-7,8-Dihydropterin","s":"KZ-R","v":-0.5},
    {"m":"Glutamylhydroxyproline","s":"KZ-T","v":0.5},{"m":"Glutamylhydroxyproline","s":"KZ-R","v":-0.5},
    {"m":"2-(1,3-Dioxolan)Aniline","s":"KZ-T","v":-0.5},{"m":"2-(1,3-Dioxolan)Aniline","s":"KZ-R","v":0.5},
    {"m":"Sulfamethoxazole","s":"KZ-T","v":-1},{"m":"Sulfamethoxazole","s":"KZ-R","v":1},
    {"m":"Citrulline","s":"KZ-T","v":0.5},{"m":"Citrulline","s":"KZ-R","v":-0.5},
    {"m":"PGA Ethanolamide","s":"KZ-T","v":-0.5},{"m":"PGA Ethanolamide","s":"KZ-R","v":0.5},
    {"m":"2-Pyrimidin-2-Yl-Propanoic Acid","s":"KZ-T","v":0.5},{"m":"2-Pyrimidin-2-Yl-Propanoic Acid","s":"KZ-R","v":-0.5},
    {"m":"Pyrogallol","s":"KZ-T","v":1},{"m":"Pyrogallol","s":"KZ-R","v":-1},
    {"m":"Ala-His","s":"KZ-T","v":0.5},{"m":"Ala-His","s":"KZ-R","v":-0.5},
    {"m":"Pirantamone 1","s":"KZ-T","v":-1},{"m":"Pirantamone 1","s":"KZ-R","v":1},
    {"m":"Scolopendrin","s":"KZ-T","v":-0.5},{"m":"Scolopendrin","s":"KZ-R","v":0.5},
    {"m":"Carnosine","s":"KZ-T","v":-1},{"m":"Carnosine","s":"KZ-R","v":1},
    {"m":"Taurine","s":"KZ-T","v":-1},{"m":"Taurine","s":"KZ-R","v":1},
    {"m":"1,3,7-Trimethyluric Acid","s":"KZ-T","v":0.5},{"m":"1,3,7-Trimethyluric Acid","s":"KZ-R","v":-0.5},
    {"m":"Fucosamide Glucuronide","s":"KZ-T","v":-0.5},{"m":"Fucosamide Glucuronide","s":"KZ-R","v":0.5},
    {"m":"Gamma-Glutamyl-Beta-Aminopropionitrile","s":"KZ-T","v":0.5},{"m":"Gamma-Glutamyl-Beta-Aminopropionitrile","s":"KZ-R","v":-0.5},
    {"m":"1-Aminocyclopropane-1-Carboxylate","s":"KZ-T","v":-1},{"m":"1-Aminocyclopropane-1-Carboxylate","s":"KZ-R","v":1},
    {"m":"Diacetone Alcohol","s":"KZ-T","v":-1},{"m":"Diacetone Alcohol","s":"KZ-R","v":1},
    {"m":"L-Glutamine","s":"KZ-T","v":-1},{"m":"L-Glutamine","s":"KZ-R","v":1},
    {"m":"N-Stearoyl Serine","s":"KZ-T","v":-0.5},{"m":"N-Stearoyl Serine","s":"KZ-R","v":0.5},
    {"m":"Ala-Tyr","s":"KZ-T","v":0.5},{"m":"Ala-Tyr","s":"KZ-R","v":-0.5},
    {"m":"N-Methyl-D-Aspartic Acid","s":"KZ-T","v":-1},{"m":"N-Methyl-D-Aspartic Acid","s":"KZ-R","v":1},
    {"m":"2-Amino-4-Methylpyrimidine","s":"KZ-T","v":-1},{"m":"2-Amino-4-Methylpyrimidine","s":"KZ-R","v":1},
    {"m":"Diphenylguanidine","s":"KZ-T","v":0.5},{"m":"Diphenylguanidine","s":"KZ-R","v":-0.5},
    {"m":"D-Pyroglutamic Acid","s":"KZ-T","v":1},{"m":"D-Pyroglutamic Acid","s":"KZ-R","v":-1},
    {"m":"L-Glutamic Acid","s":"KZ-T","v":-1},{"m":"L-Glutamic Acid","s":"KZ-R","v":1}]},
   "mark":{"type":"rect","stroke":"#ffffff","strokeWidth":0.3},
   "encoding":{
    "x":{"field":"s","type":"nominal","sort":["KZ-T","KZ-R"],"scale":{"paddingInner":0,"paddingOuter":0},"axis":{"title":null,"labelAngle":-45,"labelFontSize":3,"ticks":false,"domain":false,"labelPadding":1}},
    "y":{"field":"m","type":"nominal","sort":null,"axis":null},
    "color":{"field":"v","type":"quantitative","scale":{"domain":[-1,-0.5,0,0.5,1],"range":["#6F9BD8","#B59CE3","#F4F2F2","#8D8B3F","#C27A45"]},"legend":{"orient":"none","legendX":22,"legendY":6,"title":null,"direction":"vertical","gradientLength":20,"gradientThickness":4,"labelFontSize":3,"values":[-1,-0.5,0,0.5,1],"padding":0,"labelOffset":1}}
   }},
  {"width":80,"height":130,"data":{"values":[]},"mark":{"type":"point"},"encoding":{}},
  {"title":{"text":"E","anchor":"start","frame":"group","fontSize":15,"dx":-64,"offset":10,"baseline":"bottom"},
   "width":65,"height":131,
   "view":{"stroke":"#9a9a9a","strokeWidth":0.5},
   "data":{"values":[
    {"p":"Histidine metabolism","x":0.11,"n":4,"pv":0.001},
    {"p":"Thiamine metabolism","x":0.067,"n":2,"pv":0.004},
    {"p":"beta-Alanine metabolism","x":0.064,"n":2,"pv":0.004},
    {"p":"Biosynthesis of cofactors","x":0.013,"n":4,"pv":0.002},
    {"p":"Folate biosynthesis","x":0.036,"n":2,"pv":0.006},
    {"p":"Leishmaniasis","x":0.166,"n":1,"pv":0.03},
    {"p":"GnRH signaling pathway","x":0.166,"n":1,"pv":0.03},
    {"p":"Fc gamma R-mediated phagocytosis","x":0.125,"n":1,"pv":0.028},
    {"p":"Long-term depression","x":0.113,"n":1,"pv":0.027},
    {"p":"Necroptosis","x":0.103,"n":1,"pv":0.026},
    {"p":"Fc epsilon RI signaling pathway","x":0.092,"n":1,"pv":0.025},
    {"p":"Oxytocin signaling pathway","x":0.086,"n":1,"pv":0.024},
    {"p":"Amoebiasis","x":0.08,"n":1,"pv":0.024},
    {"p":"Regulation of lipolysis in adipocytes","x":0.073,"n":1,"pv":0.023},
    {"p":"Platelet activation","x":0.073,"n":1,"pv":0.023},
    {"p":"Vascular smooth muscle contraction","x":0.065,"n":1,"pv":0.022},
    {"p":"Retrograde endocannabinoid signaling","x":0.05,"n":1,"pv":0.021}]},
   "mark":{"type":"circle","opacity":1},
   "encoding":{
    "x":{"field":"x","type":"quantitative","scale":{"domain":[-0.05,0.2],"nice":false,"zero":false},"axis":{"title":"Rich Factor","titleFontSize":4.5,"titlePadding":2,"values":[-0.05,0,0.05,0.1,0.15,0.2],"format":"~g","labelFontSize":3.2,"tickSize":2,"tickWidth":0.5,"domain":false,"gridColor":"#e6e6e6","gridWidth":0.5,"labelPadding":1}},
    "y":{"field":"p","type":"nominal","sort":null,"axis":{"title":null,"labelFontSize":6,"tickSize":2,"tickWidth":0.5,"domain":false,"gridColor":"#e6e6e6","gridWidth":0.5,"labelPadding":1,"labelLimit":0}},
    "size":{"field":"n","type":"quantitative","scale":{"domain":[1,4],"range":[2,36]},"legend":{"orient":"none","legendX":72,"legendY":76,"title":"Number","titleFontSize":3.5,"labelFontSize":3,"values":[1,2,3,4],"symbolFillColor":"#000","symbolStrokeColor":"#000","symbolType":"circle","rowPadding":1,"titlePadding":2,"padding":0}},
    "color":{"field":"pv","type":"quantitative","scale":{"domain":[0,0.03],"range":["#A47B38","#7C8ED8"]},"legend":{"orient":"none","legendX":72,"legendY":27,"title":"P value","titleFontSize":3.5,"labelFontSize":2.8,"direction":"vertical","gradientLength":22,"gradientThickness":5,"format":".4f","values":[0,0.01,0.02,0.03],"padding":0,"titlePadding":2}}
   }},
  {"width":107,"height":131,"data":{"values":[]},"mark":{"type":"point"},"encoding":{}},
  {"title":{"text":"F","anchor":"start","frame":"group","fontSize":15,"dx":-65,"offset":10,"baseline":"bottom"},
   "width":62,"height":131,
   "view":{"stroke":"#9a9a9a","strokeWidth":0.5},
   "data":{"values":[
    {"p":"Glutathione metabolism","x":0.18,"n":4,"pv":0.0005},
    {"p":"ABC transporters","x":0.055,"n":4,"pv":0.001},
    {"p":"Nucleotide metabolism","x":0.1,"n":3,"pv":0.002},
    {"p":"Neuroactive ligand-receptor interaction","x":0.09,"n":3,"pv":0.003},
    {"p":"D-Amino acid metabolism","x":0.068,"n":3,"pv":0.003},
    {"p":"Purine metabolism","x":0.048,"n":3,"pv":0.004},
    {"p":"Biosynthesis of cofactors","x":0.023,"n":4,"pv":0.004},
    {"p":"Arginine biosynthesis","x":0.126,"n":2,"pv":0.006},
    {"p":"FoxO signaling pathway","x":0.39,"n":1,"pv":0.008},
    {"p":"Alanine, aspartate and glutamate metabolism","x":0.103,"n":2,"pv":0.007},
    {"p":"Ferroptosis","x":0.1,"n":2,"pv":0.007},
    {"p":"Glutamatergic synapse","x":0.24,"n":1,"pv":0.009},
    {"p":"Pentose phosphate pathway","x":0.077,"n":2,"pv":0.008},
    {"p":"Central carbon metabolism in cancer","x":0.077,"n":2,"pv":0.008},
    {"p":"GABAergic synapse","x":0.213,"n":1,"pv":0.009},
    {"p":"Alcoholism","x":0.19,"n":1,"pv":0.0095},
    {"p":"Protein digestion and absorption","x":0.061,"n":2,"pv":0.009},
    {"p":"Aminoacyl-tRNA biosynthesis","x":0.055,"n":2,"pv":0.009},
    {"p":"Amyotrophic lateral sclerosis","x":0.142,"n":1,"pv":0.0098},
    {"p":"Renin secretion","x":0.113,"n":1,"pv":0.01}]},
   "mark":{"type":"circle","opacity":1},
   "encoding":{
    "x":{"field":"x","type":"quantitative","scale":{"domain":[-0.1,0.5],"nice":false,"zero":false},"axis":{"title":"Rich Factor","titleFontSize":4.5,"titlePadding":2,"values":[-0.1,0,0.1,0.2,0.3,0.4,0.5],"format":"~g","labelFontSize":3.2,"tickSize":2,"tickWidth":0.5,"domain":false,"gridColor":"#e6e6e6","gridWidth":0.5,"labelPadding":1}},
    "y":{"field":"p","type":"nominal","sort":null,"axis":{"title":null,"labelFontSize":6,"tickSize":2,"tickWidth":0.5,"domain":false,"gridColor":"#e6e6e6","gridWidth":0.5,"labelPadding":1,"labelLimit":0}},
    "size":{"field":"n","type":"quantitative","scale":{"domain":[1,4],"range":[2,32]},"legend":{"orient":"none","legendX":66,"legendY":75,"title":"Number","titleFontSize":3.5,"labelFontSize":3,"values":[1,2,3,4],"symbolFillColor":"#000","symbolStrokeColor":"#000","symbolType":"circle","rowPadding":1,"titlePadding":2,"padding":0}},
    "color":{"field":"pv","type":"quantitative","scale":{"domain":[0,0.01],"range":["#A87440","#6F8FCF"]},"legend":{"orient":"none","legendX":66,"legendY":23,"title":"P value","titleFontSize":3.5,"labelFontSize":2.8,"direction":"vertical","gradientLength":28,"gradientThickness":5,"format":".4f","values":[0,0.0025,0.005,0.0075,0.01],"padding":0,"titlePadding":2}}
   }}
]}
]
}
